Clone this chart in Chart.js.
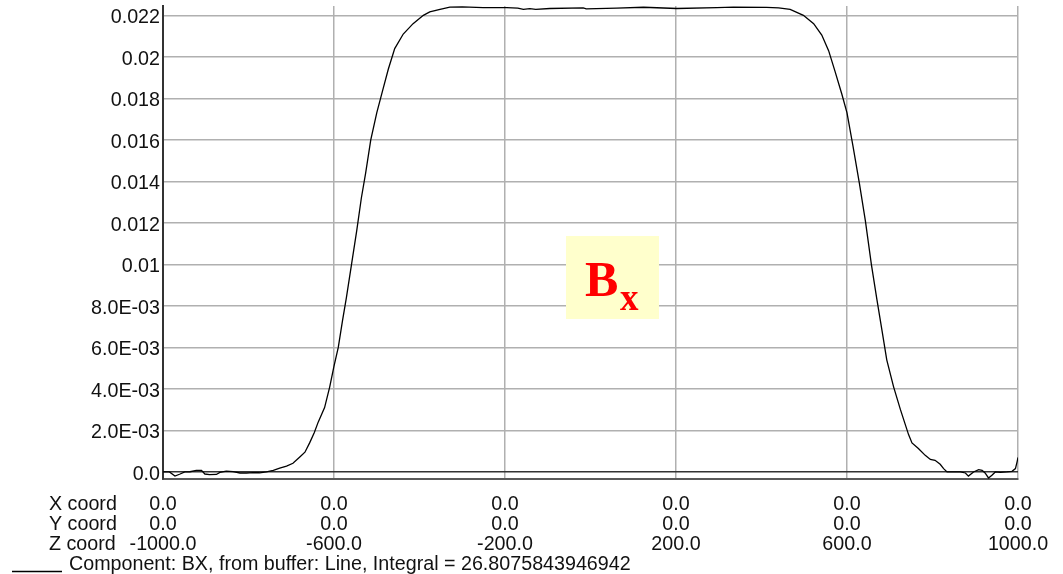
<!DOCTYPE html>
<html>
<head>
<meta charset="utf-8">
<script src="https://cdn.jsdelivr.net/npm/chart.js@4/dist/chart.umd.min.js"></script>
<style>
  html, body { margin: 0; padding: 0; background: #fff; }
</style>
</head>
<body>
<canvas id="bxChart" width="1063" height="574"></canvas>
<script>
// field profile along the line (z coordinate vs Bx)
const zCoords = [
  -1000, -985, -972, -960, -949, -937, -922, -910, -902, -891, -875, -867, -852, -836, -820, -805, -789, -774,
  -758, -742, -727, -711, -696, -680, -668, -657, -646, -637, -622, -610, -600, -590, -580, -571, -559, -547,
  -536, -526, -514, -500, -486, -473, -458, -438, -415, -391, -376, -352, -329, -300, -251, -196, -170, -157,
  -142, -128, -95, -17, -10, 61, 124, 202, 296, 334, 412, 440, 467, 498, 522, 541, 557, 572, 588, 600, 614,
  629, 643, 657, 670, 682, 693, 709, 725, 744, 752, 767, 783, 795, 806, 818, 826, 834, 849, 865, 877, 884,
  896, 908, 916, 923, 931, 939, 947, 959, 974, 986, 994, 998, 1000
];
const bxValues = [
  0.0, 0.0, -0.0002, -0.0001, 0.0, 0.00001, 0.00008, 0.00008, -0.0001, -0.00013, -0.00012, -0.00002, 0.00004, 0.00002, -0.00005, -0.00005, -0.00003, -0.00004,
  0.0, 0.00008, 0.00018, 0.00028, 0.00042, 0.00072, 0.00095, 0.0014, 0.0019, 0.0024, 0.0031, 0.0041, 0.0051, 0.0060, 0.0073, 0.0084, 0.0100, 0.0116,
  0.0132, 0.0144, 0.0160, 0.0173, 0.0184, 0.0194, 0.0204, 0.0211, 0.0216, 0.0220, 0.02217, 0.02229, 0.02240, 0.02241, 0.02237, 0.02237, 0.02235, 0.02229,
  0.02232, 0.02229, 0.02233, 0.02236, 0.02231, 0.02235, 0.02239, 0.02233, 0.02237, 0.02240, 0.02238, 0.02236, 0.02229, 0.0220, 0.0216, 0.02105, 0.0203, 0.0193, 0.0182, 0.0173, 0.0157,
  0.0139, 0.0121, 0.0100, 0.0083, 0.0068, 0.0054, 0.0041, 0.0030, 0.0018, 0.0014, 0.00113, 0.0008, 0.0006, 0.00056, 0.00037, 0.00016, 0.0, 0.0, 0.0, -0.00005, -0.0002,
  0.0, 0.00011, 0.00008, -0.00005, -0.00029, -0.00016, 0.0, -0.00002, 0.0, 0.00003, 0.00016, 0.0005, 0.0007
];

const zTicks = [-1000, -600, -200, 200, 600, 1000];
const xCoordRow = ["0.0", "0.0", "0.0", "0.0", "0.0", "0.0"];
const yCoordRow = ["0.0", "0.0", "0.0", "0.0", "0.0", "0.0"];
const zCoordRow = ["-1000.0", "-600.0", "-200.0", "200.0", "600.0", "1000.0"];
const rowTitles = ["X coord", "Y coord", "Z coord"];

const yTicks = [0, 0.002, 0.004, 0.006, 0.008, 0.01, 0.012, 0.014, 0.016, 0.018, 0.02, 0.022];
const yTickLabels = ["0.0", "2.0E-03", "4.0E-03", "6.0E-03", "8.0E-03", "0.01", "0.012", "0.014", "0.016", "0.018", "0.02", "0.022"];

const legendText = "Component: BX, from buffer: Line, Integral = 26.8075843946942";

const FONT = '"Liberation Sans", Arial, sans-serif';
const FSIZE = 19.7;
const TEXT = "#111";
const GRID = "#b0b0b0";

const extras = {
  id: "extras",
  afterDraw(chart) {
    const c = chart.ctx;
    c.save();
    c.font = FSIZE + "px " + FONT;
    c.fillStyle = TEXT;
    c.textAlign = "left";
    c.textBaseline = "alphabetic";
    rowTitles.forEach((t, i) => c.fillText(t, 49, 510 + i * 20));

    // legend swatch + text
    c.strokeStyle = "#000";
    c.lineWidth = 1.5;
    c.beginPath();
    c.moveTo(12, 571.5);
    c.lineTo(62, 571.5);
    c.stroke();
    c.fillText(legendText, 69, 570);

    // Bx label box
    c.fillStyle = "#ffffcc";
    c.fillRect(566, 236, 93, 83);
    c.fillStyle = "#ff0000";
    c.font = 'bold 50px "Liberation Serif", "Times New Roman", serif';
    c.fillText("B", 585, 296);
    c.font = 'bold 37px "Liberation Serif", "Times New Roman", serif';
    c.fillText("x", 620, 310);
    c.restore();
  }
};

new Chart(document.getElementById("bxChart"), {
  type: "line",
  data: {
    datasets: [{
      label: legendText,
      data: zCoords.map((z, i) => ({x: z, y: bxValues[i]})),
      borderColor: "#000",
      borderWidth: 1.3,
      pointRadius: 0,
      tension: 0,
      fill: false
    }]
  },
  options: {
    responsive: false,
    animation: false,
    layout: {padding: {top: 6, right: 45, bottom: 0, left: 0}},
    plugins: {
      legend: {display: false},
      tooltip: {enabled: false}
    },
    scales: {
      x: {
        type: "linear",
        min: -1000,
        max: 1000,
        afterBuildTicks: scale => { scale.ticks = zTicks.map(v => ({value: v})); },
        afterFit: scale => { scale.height = 95; scale.paddingLeft = 0; scale.paddingRight = 0; },
        ticks: {
          autoSkip: false,
          maxRotation: 0,
          padding: 16,
          color: TEXT,
          font: {family: FONT, size: FSIZE, lineHeight: "20px"},
          callback: (v, i) => [xCoordRow[i], yCoordRow[i], zCoordRow[i]]
        },
        grid: {
          drawTicks: false,
          lineWidth: 1.5,
          color: ctx => (ctx.tick && ctx.tick.value === -1000) ? "rgba(0,0,0,0)" : GRID
        },
        border: {display: true, color: "#5a5a5a", width: 2}
      },
      y: {
        min: -0.00034,
        max: 0.02245,
        afterBuildTicks: scale => { scale.ticks = yTicks.map(v => ({value: v})); },
        afterFit: scale => { scale.width = 163; scale.paddingTop = 0; scale.paddingBottom = 0; },
        ticks: {
          padding: 3,
          color: TEXT,
          // empty first line nudges the label a few pixels below its grid line
          font: {family: FONT, size: FSIZE, lineHeight: "5px"},
          callback: (v, i) => ["", yTickLabels[i]]
        },
        grid: {
          drawTicks: false,
          lineWidth: 1.5,
          color: ctx => (ctx.tick && ctx.tick.value === 0) ? "#333" : GRID
        },
        border: {display: true, color: "#333", width: 2}
      }
    }
  },
  plugins: [extras]
});
</script>
</body>
</html>
